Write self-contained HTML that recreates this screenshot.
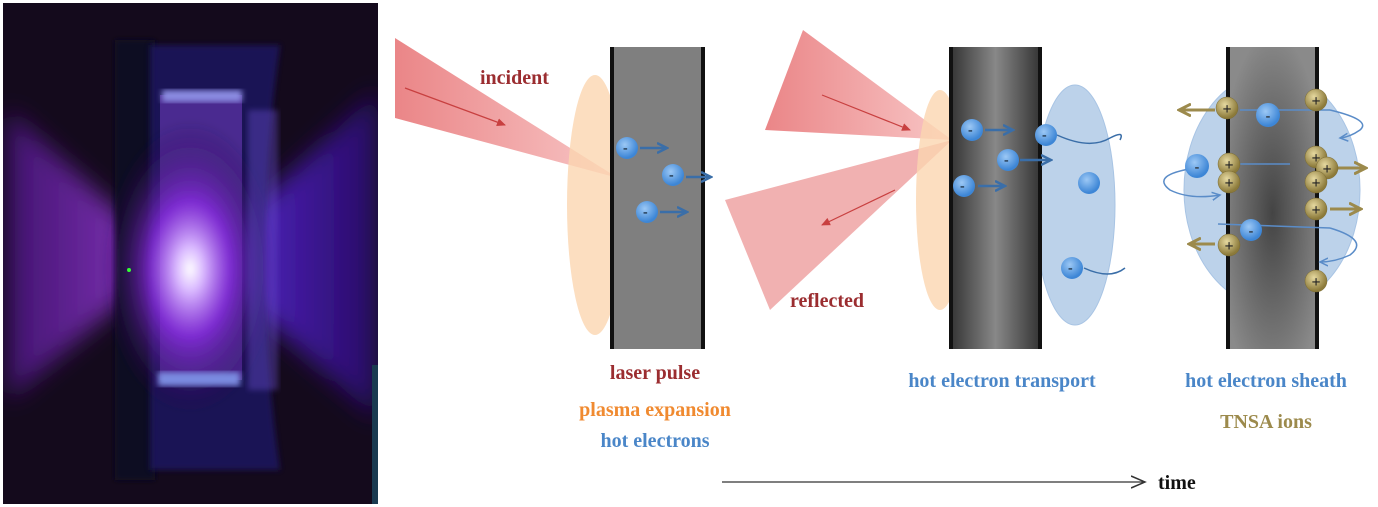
<!DOCTYPE html>
<html><head><style>
body{margin:0;background:#fff;}
svg{display:block;}
text{font-family:"Liberation Serif",serif;font-weight:bold;}
</style></head><body>
<svg width="1378" height="507" viewBox="0 0 1378 507" xmlns="http://www.w3.org/2000/svg">
<defs>
<filter id="blur" x="-20%" y="-20%" width="140%" height="140%"><feGaussianBlur stdDeviation="12"/></filter>
<filter id="blur2"><feGaussianBlur stdDeviation="3"/></filter>
<clipPath id="pc"><rect x="3" y="3" width="375" height="501"/></clipPath>
<radialGradient id="glow" cx="0.5" cy="0.53" r="0.5">
<stop offset="0" stop-color="#fff"/><stop offset="0.15" stop-color="#d9b8ff"/><stop offset="0.45" stop-color="#8a2be2" stop-opacity="0.8"/><stop offset="1" stop-color="#1a0830" stop-opacity="0"/>
</radialGradient>
<linearGradient id="lside" x1="0" x2="1"><stop offset="0" stop-color="#4a1580"/><stop offset="1" stop-color="#a040e0"/></linearGradient>
<linearGradient id="rside" x1="0" x2="1"><stop offset="0" stop-color="#6a30ff"/><stop offset="1" stop-color="#2a0a70"/></linearGradient>
<linearGradient id="slab2" x1="0" x2="1"><stop offset="0" stop-color="#333"/><stop offset="0.5" stop-color="#888"/><stop offset="1" stop-color="#333"/></linearGradient>
<radialGradient id="slab3" cx="0.5" cy="0.55" r="0.6"><stop offset="0" stop-color="#444"/><stop offset="1" stop-color="#8a8a8a"/></radialGradient>
<linearGradient id="beam1" x1="0" x2="1"><stop offset="0" stop-color="#e8787a"/><stop offset="1" stop-color="#f7c0c0"/></linearGradient>
<radialGradient id="el" cx="0.4" cy="0.35" r="0.6"><stop offset="0" stop-color="#9cc8f5"/><stop offset="1" stop-color="#3d86d6"/></radialGradient>
<radialGradient id="ion" cx="0.4" cy="0.35" r="0.6"><stop offset="0" stop-color="#e6d9a0"/><stop offset="1" stop-color="#8c7a3a"/></radialGradient>
<marker id="ab" markerUnits="userSpaceOnUse" markerWidth="12" markerHeight="12" refX="9" refY="6" orient="auto"><path d="M0,1 L10,6 L0,11" fill="none" stroke="#3a6ea8" stroke-width="2.5"/></marker>
<marker id="abt" markerUnits="userSpaceOnUse" markerWidth="10" markerHeight="10" refX="8" refY="5" orient="auto"><path d="M0,1 L8,5 L0,9" fill="none" stroke="#5a8cc8" stroke-width="1.5"/></marker>
<marker id="ao" markerUnits="userSpaceOnUse" markerWidth="14" markerHeight="14" refX="11" refY="7" orient="auto"><path d="M0,1 L12,7 L0,13" fill="none" stroke="#9c8a4c" stroke-width="3"/></marker>
<marker id="ar" markerUnits="userSpaceOnUse" markerWidth="10" markerHeight="10" refX="8" refY="5" orient="auto"><path d="M0,1 L9,5 L0,9 Z" fill="#c84040"/></marker>
<marker id="at" markerUnits="userSpaceOnUse" markerWidth="16" markerHeight="14" refX="14" refY="7" orient="auto"><path d="M0,1 L14,7 L0,13" fill="none" stroke="#333" stroke-width="1.5"/></marker>
</defs>
<!-- photo -->
<rect x="3" y="3" width="375" height="501" fill="#140a1c"/>
<g clip-path="url(#pc)">
<g filter="url(#blur)">
<polygon points="8,110 170,260 8,400" fill="url(#lside)" opacity="0.85"/>
<polygon points="378,90 200,260 378,420" fill="url(#rside)" opacity="0.85"/>
</g>
<rect x="115" y="40" width="40" height="440" fill="#0d0a20" filter="url(#blur2)"/>
<path d="M150,45 L280,45 Q250,260 280,470 L150,470 Z" fill="#1f1660" opacity="0.85" filter="url(#blur2)"/>
<rect x="160" y="95" width="82" height="285" fill="#4a2a90"/>
<ellipse cx="190" cy="260" rx="90" ry="150" fill="url(#glow)" filter="url(#blur2)"/>
<rect x="162" y="90" width="80" height="12" fill="#8a8ae0" filter="url(#blur2)"/>
<rect x="158" y="372" width="82" height="14" fill="#7a8ae0" filter="url(#blur2)"/>
<rect x="248" y="110" width="30" height="280" fill="#6a50d0" opacity="0.4" filter="url(#blur2)"/>
<circle cx="129" cy="270" r="2" fill="#3f3"/>
<rect x="372" y="365" width="6" height="139" fill="#1a3a50"/>
</g>
<!-- panel 1 -->
<polygon points="395,38 395,118 618,178" fill="url(#beam1)" opacity="0.9"/>
<line x1="405" y1="88" x2="505" y2="125" stroke="#c84040" stroke-width="1.2" marker-end="url(#ar)"/>
<text x="480" y="84" font-size="20" fill="#9b2d30">incident</text>
<ellipse cx="595" cy="205" rx="28" ry="130" fill="#fbd6b0" opacity="0.8"/>
<rect x="611" y="47" width="93" height="302" fill="#7f7f7f"/>
<rect x="610" y="47" width="4" height="302" fill="#111"/>
<rect x="701" y="47" width="4" height="302" fill="#111"/>
<g stroke="#3a6ea8" stroke-width="2.5" fill="none">
<line x1="640" y1="148" x2="666" y2="148" marker-end="url(#ab)"/>
<line x1="686" y1="177" x2="710" y2="177" marker-end="url(#ab)"/>
<line x1="660" y1="212" x2="686" y2="212" marker-end="url(#ab)"/>
</g>
<g fill="url(#el)"><circle cx="627" cy="148" r="11"/><circle cx="673" cy="175" r="11"/><circle cx="647" cy="212" r="11"/></g>
<g font-size="14" fill="#123" font-family="Liberation Sans"><text x="623" y="152">-</text><text x="669" y="179">-</text><text x="643" y="216">-</text></g>
<!-- panel 2 -->
<polygon points="803,30 765,130 952,140" fill="url(#beam1)" opacity="0.9"/>
<polygon points="952,140 725,200 770,310" fill="#f0a8a8" opacity="0.9"/>
<line x1="822" y1="95" x2="910" y2="130" stroke="#c84040" stroke-width="1.2" marker-end="url(#ar)"/>
<line x1="895" y1="190" x2="822" y2="225" stroke="#c84040" stroke-width="1.2" marker-end="url(#ar)"/>
<text x="790" y="307" font-size="20" fill="#9b2d30">reflected</text>
<ellipse cx="940" cy="200" rx="24" ry="110" fill="#fbd6b0" opacity="0.8"/>
<ellipse cx="1075" cy="205" rx="40" ry="120" fill="#bcd2ea" stroke="#a8c4e4"/>
<rect x="950" y="47" width="91" height="302" fill="url(#slab2)"/>
<rect x="949" y="47" width="4" height="302" fill="#111"/>
<rect x="1038" y="47" width="4" height="302" fill="#111"/>
<g stroke="#3a6ea8" stroke-width="2.5" fill="none">
<line x1="985" y1="130" x2="1012" y2="130" marker-end="url(#ab)"/>
<line x1="1020" y1="160" x2="1050" y2="160" marker-end="url(#ab)"/>
<line x1="978" y1="186" x2="1004" y2="186" marker-end="url(#ab)"/>
<path d="M1057,135 Q1090,150 1110,138 Q1125,130 1120,140" stroke-width="1.5"/>
<path d="M1084,268 Q1110,280 1125,268" stroke-width="1.5"/>
</g>
<g fill="url(#el)"><circle cx="972" cy="130" r="11"/><circle cx="1008" cy="160" r="11"/><circle cx="964" cy="186" r="11"/><circle cx="1046" cy="135" r="11"/><circle cx="1089" cy="183" r="11"/><circle cx="1072" cy="268" r="11"/></g>
<g font-size="14" fill="#123" font-family="Liberation Sans"><text x="968" y="134">-</text><text x="1004" y="164">-</text><text x="960" y="190">-</text><text x="1042" y="139">-</text><text x="1068" y="272">-</text></g>
<!-- panel 3 -->
<ellipse cx="1272" cy="190" rx="88" ry="117" fill="#bcd2ea" stroke="#a8c4e4"/>
<rect x="1227" y="47" width="91" height="302" fill="url(#slab3)"/>
<rect x="1226" y="47" width="4" height="302" fill="#111"/>
<rect x="1315" y="47" width="4" height="302" fill="#111"/>
<g stroke="#5a8cc8" stroke-width="1.5" fill="none">
<line x1="1240" y1="110" x2="1330" y2="110"/>
<path d="M1330,110 Q1372,120 1360,130 Q1350,137 1340,138" marker-end="url(#abt)"/>
<line x1="1240" y1="164" x2="1290" y2="164"/>
<path d="M1195,168 Q1150,175 1170,190 Q1190,200 1220,195" marker-end="url(#abt)"/>
<line x1="1218" y1="224" x2="1330" y2="228"/>
<path d="M1330,228 Q1370,240 1350,255 Q1335,262 1320,262" marker-end="url(#abt)"/>
</g>
<g stroke="#9c8a4c" stroke-width="3" fill="none">
<line x1="1215" y1="110" x2="1180" y2="110" marker-end="url(#ao)"/>
<line x1="1215" y1="244" x2="1190" y2="244" marker-end="url(#ao)"/>
<line x1="1330" y1="168" x2="1365" y2="168" marker-end="url(#ao)"/>
<line x1="1330" y1="209" x2="1360" y2="209" marker-end="url(#ao)"/>
</g>
<g fill="url(#el)"><circle cx="1268" cy="115" r="12"/><circle cx="1197" cy="166" r="12"/><circle cx="1251" cy="230" r="11"/></g>
<g fill="url(#ion)" stroke="#7a6a30" stroke-width="0.5">
<circle cx="1227" cy="108" r="11"/><circle cx="1316" cy="100" r="11"/>
<circle cx="1229" cy="164" r="11"/><circle cx="1229" cy="182" r="11"/>
<circle cx="1316" cy="157" r="11"/><circle cx="1327" cy="168" r="11"/><circle cx="1316" cy="182" r="11"/>
<circle cx="1316" cy="209" r="11"/><circle cx="1229" cy="245" r="11"/><circle cx="1316" cy="281" r="11"/>
</g>
<g font-size="16" fill="#222" font-family="Liberation Sans" text-anchor="middle">
<text x="1227" y="114">+</text><text x="1316" y="106">+</text><text x="1229" y="170">+</text><text x="1229" y="188">+</text><text x="1316" y="163">+</text><text x="1327" y="174">+</text><text x="1316" y="188">+</text><text x="1316" y="215">+</text><text x="1229" y="251">+</text><text x="1316" y="287">+</text>
<text x="1268" y="120" font-size="14">-</text><text x="1197" y="171" font-size="14">-</text><text x="1251" y="235" font-size="14">-</text>
</g>
<!-- labels -->
<g font-size="20" text-anchor="middle">
<text x="655" y="379" fill="#9b2d30">laser pulse</text>
<text x="655" y="416" fill="#f08a30">plasma expansion</text>
<text x="655" y="447" fill="#4a86c8">hot electrons</text>
<text x="1002" y="387" fill="#4a86c8">hot electron transport</text>
<text x="1266" y="387" fill="#4a86c8">hot electron sheath</text>
<text x="1266" y="428" fill="#9c8a4c">TNSA ions</text>
</g>
<line x1="722" y1="482" x2="1145" y2="482" stroke="#333" stroke-width="1.3" marker-end="url(#at)"/>
<text x="1158" y="489" font-size="20" fill="#111">time</text>
</svg>
</body></html>
